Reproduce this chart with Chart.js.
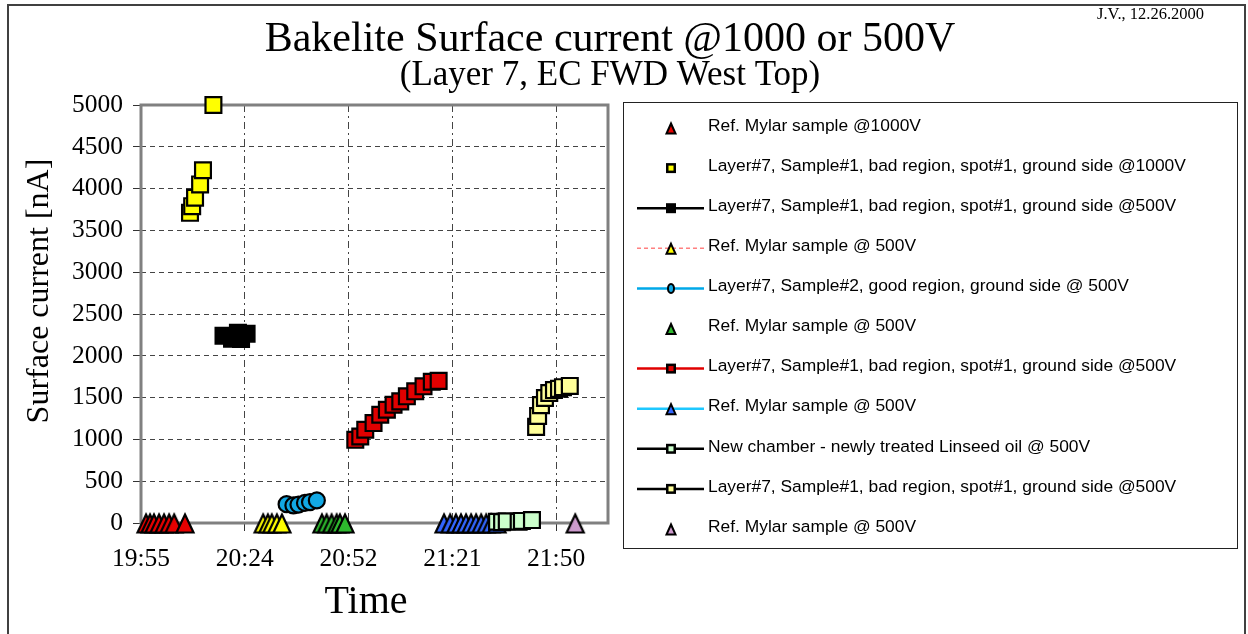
<!DOCTYPE html>
<html>
<head>
<meta charset="utf-8">
<title>Bakelite Surface current</title>
<script src="https://cdn.jsdelivr.net/npm/chart.js@4.4.1/dist/chart.umd.min.js"></script>
<style>
  html, body { margin: 0; padding: 0; background: #fff; }
  canvas { display: block; }
</style>
</head>
<body>
<canvas id="surface" width="1248" height="634"></canvas>
<script>
// time axis runs in day fractions like the old spreadsheet: 0.83 .. 0.92, one major unit = 0.02 day
const axisStartDay = 0.83;
const axisEndDay = 0.92;
const tickDays = [0.83, 0.85, 0.87, 0.89, 0.91];
const tickLabels = ['19:55', '20:24', '20:52', '21:21', '21:50'];
const currentTicks = [0, 500, 1000, 1500, 2000, 2500, 3000, 3500, 4000, 4500, 5000];

// measurements (clock time, surface current in nA)
const refMylar1000Times = ['19:56:36', '19:57:42', '19:58:48', '20:00:12', '20:01:36', '20:03:00', '20:04:24', '20:07:24'];
const refMylar1000Values = [0, 0, 0, 0, 0, 0, 0, 0];

const bad1000Times = ['20:08:48', '20:09:24', '20:10:12', '20:11:36', '20:12:24', '20:15:18'];
const bad1000Values = [3710, 3790, 3890, 4050, 4220, 5000];

const bad500Times = ['20:18:06', '20:20:28', '20:22:06', '20:22:58', '20:24:30'];
const bad500Values = [2240, 2205, 2275, 2200, 2265];

const refMylarYellowTimes = ['20:29:06', '20:30:24', '20:31:30', '20:32:54', '20:34:18'];
const refMylarYellowValues = [0, 0, 0, 0, 0];

const sample2Times = ['20:35:36', '20:37:30', '20:38:54', '20:40:42', '20:42:06', '20:44:00'];
const sample2Values = [225, 210, 220, 240, 250, 270];

const refMylarGreenTimes = ['20:45:24', '20:46:42', '20:48:06', '20:49:30', '20:50:24', '20:51:48'];
const refMylarGreenValues = [0, 0, 0, 0, 0, 0];

const badRedTimes = ['20:54:40', '20:56:03', '20:57:26', '20:59:44', '21:01:36', '21:03:26', '21:05:17',
                     '21:07:09', '21:08:59', '21:11:18', '21:13:36', '21:15:54', '21:17:48'];
const badRedValues = [995, 1035, 1115, 1195, 1295, 1355, 1415, 1455, 1515, 1575, 1635, 1690, 1700];

const refMylarBlueTimes = ['21:19:18', '21:21:00', '21:22:36', '21:24:00', '21:25:24', '21:26:48',
                           '21:28:12', '21:29:36', '21:31:00', '21:32:24', '21:34:00'];
const refMylarBlueValues = [0, 0, 0, 0, 0, 0, 0, 0, 0, 0, 0];

const linseedTimes = ['21:34:00', '21:35:24', '21:36:42', '21:40:00', '21:40:54', '21:43:42'];
const linseedValues = [15, 10, 20, 15, 25, 35];

const badPaleTimes = ['21:44:51', '21:45:24', '21:46:12', '21:47:18', '21:48:30', '21:49:48',
                      '21:51:12', '21:52:18', '21:54:12'];
const badPaleValues = [1150, 1280, 1410, 1495, 1555, 1590, 1605, 1625, 1640];

const refMylarLilacTimes = ['21:55:42'];
const refMylarLilacValues = [0];

const SERIF = '"Liberation Serif", "Times New Roman", serif';
const SANS = '"Liberation Sans", Arial, sans-serif';

function clock(t) {
  const p = t.split(':').map(Number);
  return p[0] * 60 + p[1] + (p[2] || 0) / 60;
}

// excel style triangle: apex up, box-centred on the value
function drawTriangle(g, cx, cy, w, h, fill, lw) {
  g.beginPath();
  g.moveTo(cx, cy - h / 2);
  g.lineTo(cx + w / 2, cy + h / 2);
  g.lineTo(cx - w / 2, cy + h / 2);
  g.closePath();
  g.fillStyle = fill;
  g.fill();
  g.lineWidth = lw;
  g.lineJoin = 'miter';
  g.strokeStyle = '#000';
  g.stroke();
}

function triangleMark(fill) {
  const c = document.createElement('canvas');
  c.width = 24;
  c.height = 24;
  drawTriangle(c.getContext('2d'), 12, 12.5, 17, 18, fill, 2.2);
  return c;
}

function series(label, times, values, look) {
  return Object.assign({
    label: label,
    data: times.map((t, i) => ({ x: clock(t), y: values[i] })),
    showLine: false,
    clip: false,
    borderWidth: 2.5,
    pointBorderColor: '#000',
    pointBorderWidth: 2.2,
    pointRadius: 11.2,
    pointHoverRadius: 11.2
  }, look);
}

function tri(fill) {
  return { pointStyle: triangleMark(fill), pointBackgroundColor: fill, borderColor: fill };
}

const datasets = [
  series('Ref. Mylar sample @1000V', refMylar1000Times, refMylar1000Values, tri('#E60000')),
  series('Layer#7, Sample#1, bad region, spot#1, ground side @1000V', bad1000Times, bad1000Values,
    { pointStyle: 'rect', pointBackgroundColor: '#FFFF00', borderColor: '#FFFF00' }),
  series('Layer#7, Sample#1, bad region, spot#1, ground side @500V', bad500Times, bad500Values,
    { pointStyle: 'rect', pointBackgroundColor: '#000', borderColor: '#000', showLine: true }),
  series('Ref. Mylar sample @ 500V', refMylarYellowTimes, refMylarYellowValues,
    Object.assign(tri('#FFFF00'), { borderColor: '#FF8080', borderWidth: 1.5, borderDash: [4, 3], showLine: true })),
  series('Layer#7, Sample#2, good region, ground side @ 500V', sample2Times, sample2Values,
    { pointStyle: 'circle', pointRadius: 8, pointHoverRadius: 8, pointBackgroundColor: '#12A8E4', borderColor: '#00A8E8', showLine: true }),
  series('Ref. Mylar sample @ 500V', refMylarGreenTimes, refMylarGreenValues, tri('#2EB82E')),
  series('Layer#7, Sample#1, bad region, spot#1, ground side @500V', badRedTimes, badRedValues,
    { pointStyle: 'rect', pointBackgroundColor: '#E00000', borderColor: '#E00000', showLine: true }),
  series('Ref. Mylar sample @ 500V', refMylarBlueTimes, refMylarBlueValues,
    Object.assign(tri('#3366FF'), { borderColor: '#1EC8FF', showLine: true })),
  series('New chamber - newly treated Linseed oil @ 500V', linseedTimes, linseedValues,
    { pointStyle: 'rect', pointBackgroundColor: '#CCFFCC', borderColor: '#000', showLine: true }),
  series('Layer#7, Sample#1, bad region, spot#1, ground side @500V', badPaleTimes, badPaleValues,
    { pointStyle: 'rect', pointBackgroundColor: '#FFFF99', borderColor: '#000', showLine: true }),
  series('Ref. Mylar sample @ 500V', refMylarLilacTimes, refMylarLilacValues, tri('#CC9ACC'))
];
// later series sit on top of earlier ones
datasets.forEach((d, i) => { d.order = datasets.length - i; });

// grey frame round the plot area, under the markers
const plotFrame = {
  id: 'plotFrame',
  beforeDatasetsDraw(chart) {
    const { ctx, chartArea: a } = chart;
    ctx.save();
    ctx.strokeStyle = '#808080';
    ctx.lineWidth = 3;
    ctx.strokeRect(a.left, a.top, a.right - a.left, a.bottom - a.top);
    ctx.restore();
  }
};

// titles, axis names, the boxed legend and the outer border
const decorations = {
  id: 'decorations',
  afterDraw(chart) {
    const ctx = chart.ctx;
    ctx.save();

    ctx.strokeStyle = '#404040';
    ctx.lineWidth = 2;
    ctx.strokeRect(8, 5, 1237, 660);

    ctx.fillStyle = '#000';
    ctx.textAlign = 'center';
    ctx.textBaseline = 'alphabetic';
    ctx.font = '42px ' + SERIF;
    ctx.fillText('Bakelite Surface current @1000 or 500V', 610, 51);
    ctx.font = '35px ' + SERIF;
    ctx.fillText('(Layer 7, EC FWD West Top)', 610, 85);

    ctx.textAlign = 'right';
    ctx.font = '16.5px ' + SERIF;
    ctx.fillText('J.V., 12.26.2000', 1204, 19);

    ctx.textAlign = 'center';
    ctx.font = '40px ' + SERIF;
    ctx.fillText('Time', 366, 613);

    ctx.save();
    ctx.translate(48, 291);
    ctx.rotate(-Math.PI / 2);
    ctx.font = '32px ' + SERIF;
    ctx.fillText('Surface current [nA]', 0, 0);
    ctx.restore();

    // legend box
    ctx.strokeStyle = '#222';
    ctx.lineWidth = 1;
    ctx.strokeRect(623.5, 102.5, 614, 446);

    ctx.font = '17.4px ' + SANS;
    ctx.textAlign = 'left';
    ctx.textBaseline = 'middle';
    chart.data.datasets.forEach((ds, i) => {
      const y = 126 + i * 40.1;
      const my = y + 2;
      if (ds.showLine) {
        ctx.save();
        ctx.strokeStyle = ds.borderColor;
        ctx.lineWidth = ds.borderWidth;
        ctx.setLineDash(ds.borderDash || []);
        ctx.beginPath();
        ctx.moveTo(637, my);
        ctx.lineTo(704, my);
        ctx.stroke();
        ctx.restore();
      }
      const fill = ds.pointBackgroundColor;
      if (ds.pointStyle === 'rect') {
        ctx.fillStyle = '#000';
        ctx.fillRect(666, my - 5, 10, 10);
        ctx.fillStyle = fill;
        ctx.fillRect(668.5, my - 2.5, 5, 5);
      } else if (ds.pointStyle === 'circle') {
        ctx.beginPath();
        ctx.ellipse(671, my, 3, 4.5, 0, 0, Math.PI * 2);
        ctx.fillStyle = fill;
        ctx.fill();
        ctx.lineWidth = 2;
        ctx.strokeStyle = '#000';
        ctx.stroke();
      } else {
        drawTriangle(ctx, 671, my + 0.5, 9, 10, fill, 2);
      }
      ctx.fillStyle = '#000';
      ctx.fillText(ds.label, 708, y);
    });

    ctx.restore();
  }
};

Chart.defaults.font.family = SERIF;

new Chart(document.getElementById('surface'), {
  type: 'scatter',
  data: { datasets: datasets },
  plugins: [plotFrame, decorations],
  options: {
    responsive: false,
    animation: false,
    events: [],
    layout: { padding: { top: 105, right: 640, bottom: 0, left: 0 } },
    plugins: {
      legend: { display: false },
      tooltip: { enabled: false },
      title: { display: false }
    },
    scales: {
      x: {
        type: 'linear',
        min: axisStartDay * 1440,
        max: axisEndDay * 1440,
        afterBuildTicks: (s) => { s.ticks = tickDays.map(d => ({ value: d * 1440 })); },
        afterFit: (s) => { s.height = 111; },
        ticks: {
          autoSkip: false,
          maxRotation: 0,
          padding: 13,
          color: '#000',
          font: { size: 25.5 },
          callback: (v, i) => tickLabels[i]
        },
        grid: { color: '#444', lineWidth: 1, tickLength: 8, tickColor: '#333', tickWidth: 1, tickBorderDash: [] },
        border: { display: false, dash: [7, 4, 2, 4] }
      },
      y: {
        type: 'linear',
        min: currentTicks[0],
        max: currentTicks[currentTicks.length - 1],
        afterBuildTicks: (s) => { s.ticks = currentTicks.map(v => ({ value: v })); },
        afterFit: (s) => { s.width = 141; },
        ticks: {
          padding: 10,
          color: '#000',
          font: { size: 25.5 },
          callback: (v) => String(v)
        },
        grid: { color: '#444', lineWidth: 1, tickLength: 8, tickColor: '#333', tickWidth: 1, tickBorderDash: [] },
        border: { display: false, dash: [5, 4] }
      }
    }
  }
});
</script>
</body>
</html>
